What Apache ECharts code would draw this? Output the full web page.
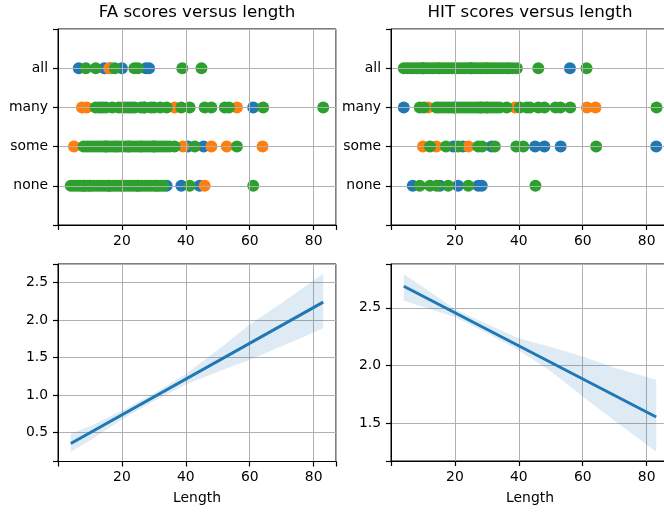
<!DOCTYPE html>
<html>
<head>
<meta charset="utf-8">
<script src="https://cdn.jsdelivr.net/npm/echarts@6/dist/echarts.min.js"></script>
<style>
  html, body { margin: 0; padding: 0; background: #fff; }
  #chart { width: 664px; height: 512px; }
</style>
</head>
<body>
<div id="chart"></div>
<script>
const scoreLabels = ["none", "some", "many", "all"];
const xTicks = [20, 40, 60, 80];

// lengths per score level (none, some, many, all), one array per annotator
const faBlue = [
  [8, 16, 25, 34, 38.6, 44.3],
  [15, 22, 30, 40.7, 45.6],
  [13, 22, 27, 61.1],
  [6.5, 14.5, 16.5, 20, 27.5, 28.5],
];
const faOrange = [
  [10, 20, 31, 45.9],
  [5, 18, 26, 39.1, 48, 52.8, 64],
  [7.5, 9, 20, 36.5, 56],
  [16],
];
const faGreen = [
  [4, 5, 6, 7, 8, 9, 10, 11, 12, 13, 14, 15, 16, 17, 18, 19, 20, 21, 22, 23, 24, 25, 26, 27, 28, 29, 30, 31, 32, 33, 41.2, 61.1],
  [8, 9, 10, 11, 12, 13, 14, 15, 16, 17, 18, 19, 20, 21, 22, 23, 24, 25, 26, 27, 28, 29, 30, 31, 32, 33, 34, 35, 36.5, 42.8, 56],
  [11.8, 14, 15, 17, 19, 21, 23, 24, 26, 27, 29, 30, 32, 34, 38.6, 41.2, 45.9, 48, 52.2, 53.5, 64.2, 83],
  [8.7, 11.8, 17.8, 23.9, 25, 38.9, 44.9],
];

const hitBlue = [
  [6.8, 15.3, 21, 27.3, 28.4],
  [19.5, 22.5, 31.5, 45.1, 48, 53.1, 83],
  [4, 20, 28],
  [10, 25, 36.2, 56],
];
const hitOrange = [
  [],
  [10, 14.2, 24.2],
  [11.6, 30, 38.8, 61.3, 64],
  [15, 30],
];
const hitGreen = [
  [9, 12.2, 14.3, 17.9, 24.2, 45.2],
  [12.2, 17.2, 21, 27.3, 28.5, 32.5, 39.2, 41.4, 64.2],
  [9, 10.3, 14.2, 15, 16, 17, 18, 19, 20, 21, 22, 23, 24, 25, 26, 27, 28, 29, 30, 31, 32, 33, 34, 36.2, 40.3, 42.5, 43.5, 46.1, 48, 51.5, 53, 56.1, 83.1],
  [4, 5, 6, 7, 8, 9, 10, 11, 12, 13, 14, 15, 16, 17, 18, 19, 20, 21, 22, 23, 24, 25, 26, 27, 28, 29, 30, 31, 32, 33, 34, 35, 37, 38, 39.4, 46.1, 61.2],
];

// regression fit and confidence band
const fitX = [4, 83];
const faFitY = [0.35, 2.24];
const hitFitY = [2.687, 1.552];
const bandX = [4, 10, 20, 30, 40, 50, 60, 70, 83];
const faUpper = [0.48, 0.58, 0.79, 1.02, 1.28, 1.6, 1.94, 2.23, 2.62];
const faLower = [0.24, 0.39, 0.67, 0.92, 1.14, 1.31, 1.47, 1.65, 1.89];
const hitUpper = [2.79, 2.68, 2.49, 2.36, 2.235, 2.16, 2.076, 1.98, 1.875];
const hitLower = [2.56, 2.51, 2.42, 2.28, 2.13, 1.95, 1.73, 1.52, 1.25];

const colors = ["#1f77b4", "#ff7f0e", "#2ca02c"];
const font = "DejaVu Sans";

function toPoints(levels) {
  const pts = [];
  levels.forEach((lens, score) => lens.forEach((x) => pts.push([x, score])));
  return pts;
}

function scatterSeries(ax, groups) {
  return groups.map((g, i) => ({
    type: "scatter",
    xAxisIndex: ax,
    yAxisIndex: ax,
    data: toPoints(g),
    symbolSize: 12,
    itemStyle: { color: colors[i], opacity: 1 },
    z: 2,
  }));
}

// one polygon: along the lower edge, back along the upper edge
function bandSeries(ax, lower, upper) {
  return {
    type: "custom",
    xAxisIndex: ax,
    yAxisIndex: ax,
    data: bandX.map((x, i) => [x, lower[i], upper[i]]),
    z: 1,
    silent: true,
    renderItem: (params, api) => {
      if (params.dataIndex !== 0) return null;
      const pts = [];
      bandX.forEach((x, i) => pts.push(api.coord([x, lower[i]])));
      for (let i = bandX.length - 1; i >= 0; i--) pts.push(api.coord([bandX[i], upper[i]]));
      return {
        type: "polygon",
        shape: { points: pts },
        style: { fill: "rgba(31,119,180,0.15)" },
      };
    },
  };
}

function fitSeries(ax, ys) {
  return {
    type: "line",
    xAxisIndex: ax,
    yAxisIndex: ax,
    data: fitX.map((x, i) => [x, ys[i]]),
    symbol: "none",
    lineStyle: { color: "#1f77b4", width: 3 },
    z: 3,
  };
}

const axisLine = { show: true, onZero: false, lineStyle: { color: "#000", width: 1 } };
const tickStyle = { show: true, inside: false, length: 5, lineStyle: { color: "#000", width: 1.2 } };
const labelStyle = { color: "#000", fontSize: 13.9, fontFamily: font };
const gridLine = { show: true, lineStyle: { color: "#b0b0b0", width: 1 } };

function xAxis(i, withName) {
  return {
    type: "value",
    gridIndex: i,
    min: 0,
    max: 87,
    interval: 20,
    z: i < 2 ? 3 : 0,
    axisLine: axisLine,
    axisTick: tickStyle,
    axisLabel: {
      ...labelStyle,
      margin: 9,
      formatter: (v) => (xTicks.includes(v) ? String(v) : ""),
    },
    splitLine: gridLine,
    name: withName ? "Length" : "",
    nameLocation: "middle",
    nameGap: 30,
    nameTextStyle: labelStyle,
  };
}

function scoreAxis(i) {
  return {
    type: "value",
    gridIndex: i,
    min: -1,
    max: 4,
    interval: 1,
    z: 3,
    axisLine: axisLine,
    axisTick: tickStyle,
    axisLabel: {
      ...labelStyle,
      margin: 10,
      formatter: (v) => scoreLabels[v] || "",
    },
    splitLine: gridLine,
  };
}

function fitAxis(i, min, max, split) {
  return {
    type: "value",
    gridIndex: i,
    min: min,
    max: max,
    splitNumber: split,
    axisLine: axisLine,
    axisTick: tickStyle,
    axisLabel: {
      ...labelStyle,
      margin: 10,
      formatter: (v) => (Math.abs(v * 2 - Math.round(v * 2)) < 1e-6 ? v.toFixed(1) : ""),
    },
    splitLine: gridLine,
  };
}

const gridBox = {
  show: true,
  borderColor: "#000",
  borderWidth: 1,
  backgroundColor: "transparent",
  outerBoundsMode: "none",
  containLabel: false,
};

const chart = echarts.init(document.getElementById("chart"));
chart.setOption({
  animation: false,
  backgroundColor: "#fff",
  graphic: [
    { type: "text", x: 197, y: 13, style: { text: "FA scores versus length", align: "center", verticalAlign: "middle", font: "16.67px DejaVu Sans", fill: "#000" } },
    { type: "text", x: 530, y: 13, style: { text: "HIT scores versus length", align: "center", verticalAlign: "middle", font: "16.67px DejaVu Sans", fill: "#000" } },
  ],
  grid: [
    { left: 58, top: 29, width: 278, height: 196, ...gridBox },
    { left: 391, top: 29, width: 278, height: 196, ...gridBox },
    { left: 58, top: 264, width: 278, height: 197.5, ...gridBox },
    { left: 391, top: 264, width: 278, height: 197, ...gridBox },
  ],
  xAxis: [xAxis(0, false), xAxis(1, false), xAxis(2, true), xAxis(3, true)],
  yAxis: [
    scoreAxis(0),
    scoreAxis(1),
    fitAxis(2, 0.11, 2.75, 5),
    fitAxis(3, 1.17, 2.88, 3),
  ],
  series: [
    ...scatterSeries(0, [faBlue, faOrange, faGreen]),
    ...scatterSeries(1, [hitBlue, hitOrange, hitGreen]),
    bandSeries(2, faLower, faUpper),
    fitSeries(2, faFitY),
    bandSeries(3, hitLower, hitUpper),
    fitSeries(3, hitFitY),
  ],
});
</script>
</body>
</html>
